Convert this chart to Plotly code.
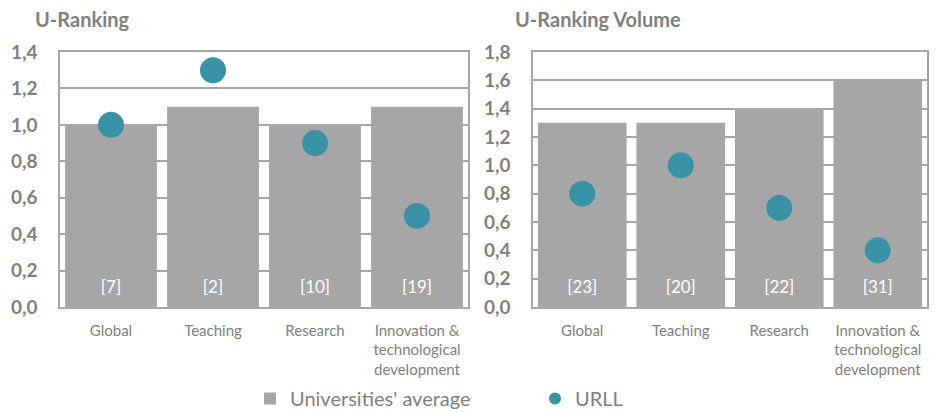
import plotly.graph_objects as go

categories = ["Global", "Teaching", "Research", "Innovation &<br>technological<br>development"]

left_avg = [1.0, 1.1, 1.0, 1.1]
left_urll = [1.0, 1.3, 0.9, 0.5]
left_ranks = ["[7]", "[2]", "[10]", "[19]"]

right_avg = [1.3, 1.3, 1.4, 1.6]
right_urll = [0.8, 1.0, 0.7, 0.4]
right_ranks = ["[23]", "[20]", "[22]", "[31]"]

BAR = "#a6a6a6"
DOT = "#3a92a7"
TXT = "#7f7f7f"
GRID = "#a6a6a6"
FONT = "Lato"

fig = go.Figure()

fig.add_trace(go.Bar(x=categories, y=left_avg, name="Universities' average",
                     marker=dict(color=BAR, line=dict(width=0)), xaxis="x", yaxis="y",
                     legendrank=1))
fig.add_trace(go.Scatter(x=categories, y=left_urll, name="URLL", mode="markers",
                         marker=dict(color=DOT, size=26), xaxis="x", yaxis="y",
                         legendrank=2))
fig.add_trace(go.Scatter(x=categories, y=[0.1] * 4, text=left_ranks, mode="text",
                         textfont=dict(color="white", size=17, family=FONT),
                         showlegend=False, xaxis="x", yaxis="y", hoverinfo="skip"))

fig.add_trace(go.Bar(x=categories, y=right_avg, name="Universities' average",
                     marker=dict(color=BAR, line=dict(width=0)), xaxis="x2", yaxis="y2",
                     showlegend=False))
fig.add_trace(go.Scatter(x=categories, y=right_urll, name="URLL", mode="markers",
                         marker=dict(color=DOT, size=26), xaxis="x2", yaxis="y2",
                         showlegend=False))
fig.add_trace(go.Scatter(x=categories, y=[0.13] * 4, text=right_ranks, mode="text",
                         textfont=dict(color="white", size=17, family=FONT),
                         showlegend=False, xaxis="x2", yaxis="y2", hoverinfo="skip"))

W, H = 939, 412
ydom = [(H - 307) / H, (H - 52) / H]

xcommon = dict(showline=True, mirror=True, linecolor=GRID, linewidth=1.5,
               showgrid=False, ticks="", tickfont=dict(size=15, color=TXT, family=FONT),
               ticklabelstandoff=9, fixedrange=True, automargin=False)
ycommon = dict(showline=True, mirror=True, linecolor=GRID, linewidth=1.5,
               showgrid=True, gridcolor=GRID, gridwidth=1.5, zeroline=False,
               dtick=0.2, tick0=0, tickformat=".1f",
               tickfont=dict(size=19, color=TXT, family=FONT, weight="bold"),
               ticklabelstandoff=17, fixedrange=True, automargin=False)

fig.update_layout(
    width=W, height=H,
    margin=dict(l=0, r=0, t=0, b=0, autoexpand=False),
    paper_bgcolor="white", plot_bgcolor="white",
    separators=",.",
    bargap=0.1,
    font=dict(family=FONT, color=TXT),
    xaxis=dict(domain=[60 / W, 468 / W], anchor="y", **xcommon),
    yaxis=dict(domain=ydom, range=[0, 1.4], anchor="x", **ycommon),
    xaxis2=dict(domain=[533 / W, 927 / W], anchor="y2", **xcommon),
    yaxis2=dict(domain=ydom, range=[0, 1.8], anchor="x2", **ycommon),
    legend=dict(orientation="h", x=250 / W, xanchor="left", y=-6 / H,
                yanchor="bottom", bgcolor="rgba(0,0,0,0)",
                font=dict(size=20, color=TXT, family=FONT),
                entrywidth=240, itemsizing="constant"),
    showlegend=True,
    annotations=[
        dict(text="<b>U-Ranking</b>", x=33 / W, y=1 - 19 / H, xref="paper", yref="paper",
             xanchor="left", yanchor="middle", showarrow=False,
             font=dict(size=20, color=TXT, family=FONT)),
        dict(text="<b>U-Ranking Volume</b>", x=513 / W, y=1 - 19 / H, xref="paper", yref="paper",
             xanchor="left", yanchor="middle", showarrow=False,
             font=dict(size=20, color=TXT, family=FONT)),
    ],
)

fig.write_html("out.html", config={"displayModeBar": False},
               post_script="document.body.style.margin='0';document.body.style.overflow='hidden';")
